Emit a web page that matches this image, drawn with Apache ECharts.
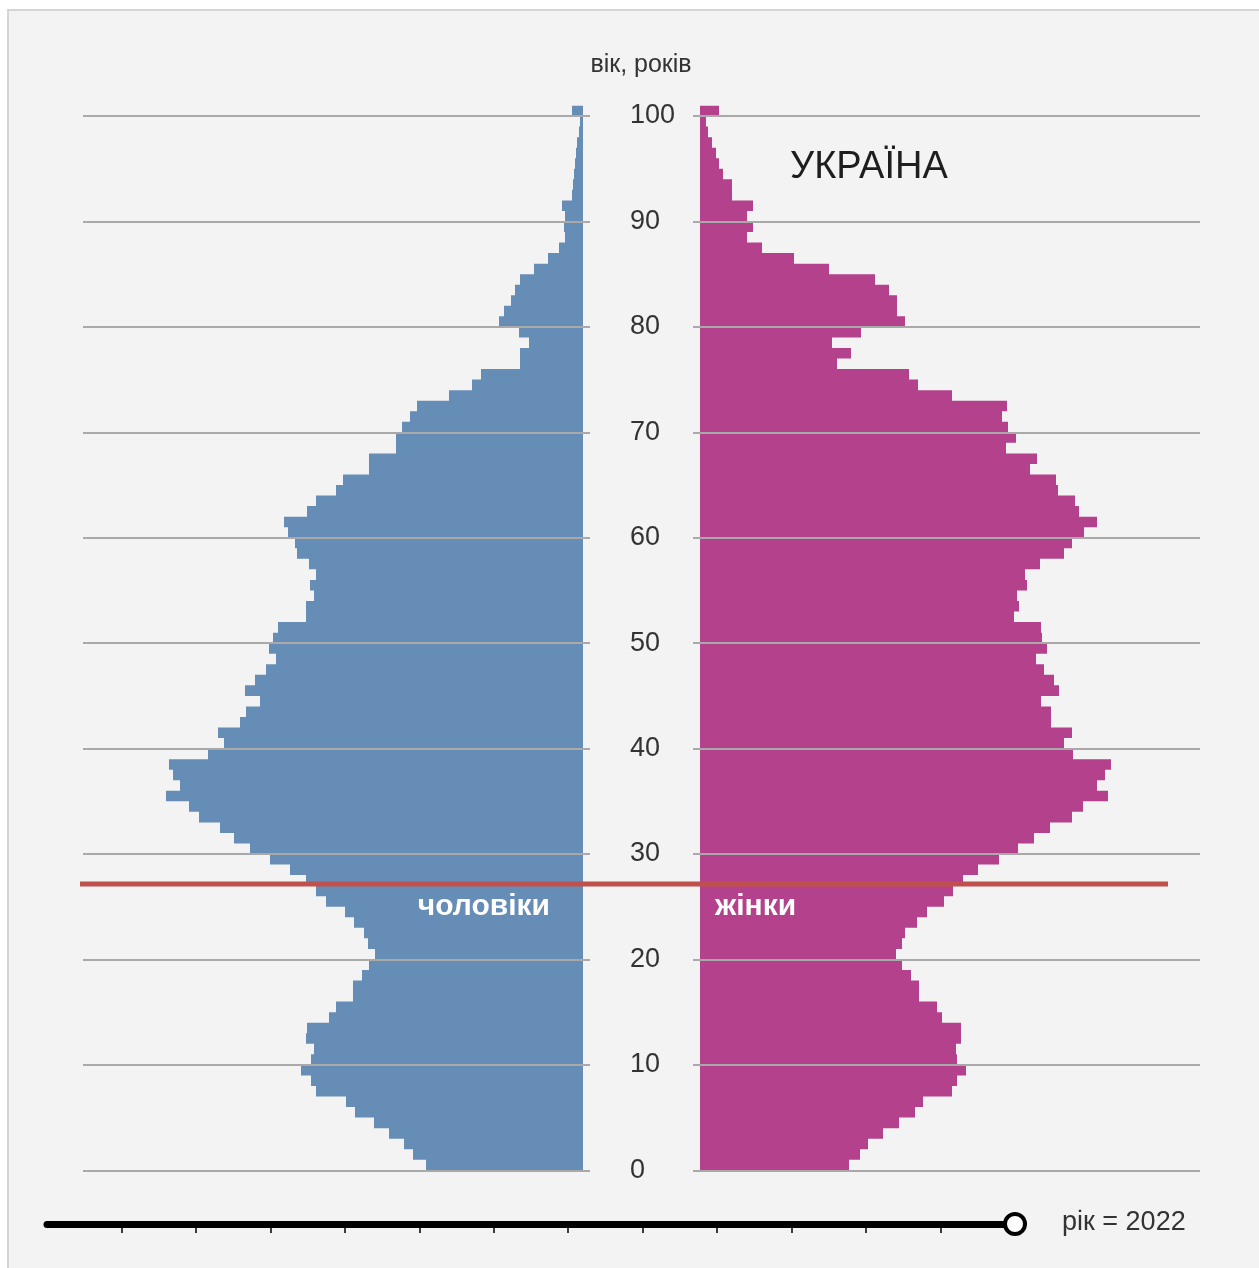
<!DOCTYPE html>
<html>
<head>
<meta charset="utf-8">
<title>Україна, 2022</title>
<script src="https://cdn.jsdelivr.net/npm/echarts@6/dist/echarts.min.js"></script>
<style>
  html, body { margin: 0; padding: 0; background: #fff; overflow: hidden; }
  #panel {
    position: absolute; left: 7px; top: 9px; right: 0; bottom: 0;
    background: #f3f3f3; border-left: 2px solid #d5d5d5; border-top: 2px solid #d5d5d5;
  }
  #pyramid { position: absolute; left: 0; top: 0; width: 1259px; height: 1268px; }
</style>
</head>
<body>
<div id="panel"></div>
<div id="pyramid"></div>
<script>
// вік 0..100, кожен бар займає рік [a, a+1]
var ages = []
for (var a = 0; a <= 100; a++) ages.push(String(a))

// чоловіки, вік 0..100 (відносна чисельність)
var males = [
  157, 170, 179, 194, 209, 228, 237, 267, 272, 282,
  272, 269, 277, 276, 254, 247, 230, 230, 221, 214,
  208, 215, 219, 229, 238, 257, 267, 277, 293, 313,
  333, 349, 363, 384, 394, 417, 403, 410, 414, 375,
  359, 365, 343, 337, 323, 338, 328, 317, 307, 314,
  310, 305, 277, 277, 269, 273, 267, 274, 286, 288,
  295, 299, 276, 267, 247, 240, 214, 214, 187, 187,
  181, 173, 166, 134, 111, 102, 63, 63, 54, 64,
  84, 79, 72, 68, 63, 49, 35, 24, 18, 19,
  18, 21, 11, 10, 9, 8, 7, 6, 4, 3,
  11
]

// жінки, вік 0..100
var females = [
  149, 160, 168, 183, 199, 215, 223, 252, 257, 266,
  257, 256, 261, 261, 242, 237, 219, 219, 211, 202,
  196, 202, 205, 217, 227, 244, 253, 263, 278, 299,
  318, 334, 350, 372, 383, 408, 397, 405, 411, 373,
  364, 372, 351, 351, 341, 359, 354, 344, 336, 347,
  342, 341, 314, 319, 317, 327, 325, 340, 364, 372,
  384, 397, 379, 375, 358, 356, 330, 337, 306, 316,
  308, 302, 307, 252, 218, 209, 137, 151, 132, 161,
  205, 197, 197, 189, 175, 129, 94, 62, 47, 53,
  47, 53, 32, 32, 23, 19, 16, 12, 8, 6,
  19
]

var markerAge = 27.15
var sliderYears = ['1957', '1962', '1967', '1972', '1977', '1982', '1987',
  '1992', '1997', '2002', '2007', '2012', '2017', '2022']
var currentYear = '2022'

var FONT = '"Liberation Sans", Arial, sans-serif'
var plotTop = 105.5
var plotHeight = 1064.8

var chart = echarts.init(document.getElementById('pyramid'))

var option = {
  animation: false,
  grid: [
    { left: 83, top: plotTop, width: 507, height: plotHeight },  // чоловіки
    { left: 693, top: plotTop, width: 507, height: plotHeight }, // жінки
    { left: 80, top: plotTop, width: 1088, height: plotHeight }, // червона лінія
    { left: 47, top: 1223, width: 968, height: 1 }                // повзунок року
  ],
  xAxis: [
    { gridIndex: 0, type: 'value', inverse: true, min: -7, max: 500, show: false },
    { gridIndex: 1, type: 'value', min: -7, max: 500, show: false },
    { gridIndex: 2, type: 'value', min: 0, max: 1, show: false },
    {
      gridIndex: 3,
      type: 'category',
      data: sliderYears,
      boundaryGap: false,
      axisLine: { lineStyle: { color: '#000', width: 7 } },
      axisTick: {
        interval: function (index) { return index > 0 },
        length: 9,
        lineStyle: { color: '#000', width: 1.5 }
      },
      axisLabel: { show: false },
      splitLine: { show: false }
    }
  ],
  yAxis: [
    { gridIndex: 0, type: 'category', data: ages, show: false },
    {
      gridIndex: 0,
      type: 'value',
      position: 'right',
      min: 0,
      max: 101,
      interval: 10,
      z: 3,
      axisLine: { show: false },
      axisTick: { show: false },
      axisLabel: { margin: 40, color: '#333', fontSize: 27, fontFamily: FONT, showMaxLabel: false },
      splitLine: { show: true, showMaxLine: false, lineStyle: { color: '#a9a9a9', width: 2 } }
    },
    { gridIndex: 1, type: 'category', data: ages, show: false },
    {
      gridIndex: 1,
      type: 'value',
      min: 0,
      max: 101,
      interval: 10,
      z: 3,
      axisLine: { show: false },
      axisTick: { show: false },
      axisLabel: { show: false },
      splitLine: { show: true, showMaxLine: false, lineStyle: { color: '#a9a9a9', width: 2 } }
    },
    { gridIndex: 2, type: 'value', min: 0, max: 101, show: false },
    { gridIndex: 3, type: 'value', min: 0, max: 1, show: false }
  ],
  series: [
    {
      // large mode draws the bars as one path, so no seams between neighbouring ages
      name: 'чоловіки',
      type: 'bar',
      xAxisIndex: 0,
      yAxisIndex: 0,
      data: males,
      barCategoryGap: '0%',
      large: true,
      largeThreshold: 10,
      itemStyle: { color: '#668db6' }
    },
    {
      name: 'жінки',
      type: 'bar',
      xAxisIndex: 1,
      yAxisIndex: 2,
      data: females,
      barCategoryGap: '0%',
      large: true,
      largeThreshold: 10,
      itemStyle: { color: '#b3418b' }
    },
    {
      type: 'line',
      xAxisIndex: 2,
      yAxisIndex: 4,
      data: [[0, markerAge], [1, markerAge]],
      symbol: 'none',
      lineStyle: { color: '#c0504d', width: 5 },
      z: 5
    },
    {
      type: 'scatter',
      xAxisIndex: 3,
      yAxisIndex: 5,
      data: [[currentYear, 0]],
      symbolSize: 20,
      itemStyle: { color: '#fff', borderColor: '#000', borderWidth: 4, opacity: 1 },
      z: 10
    }
  ],
  graphic: [
    {
      type: 'text', x: 641, y: 65,
      style: { text: 'вік, років', fontSize: 25, fontFamily: FONT, fill: '#333', align: 'center', verticalAlign: 'middle' }
    },
    {
      type: 'text', x: 790, y: 168,
      style: { text: 'УКРАЇНА', fontSize: 38, fontFamily: FONT, fill: '#1e1e1e', align: 'left', verticalAlign: 'middle' }
    },
    {
      type: 'text', x: 550, y: 907, z: 20,
      style: { text: 'чоловіки', fontSize: 30, fontWeight: 'bold', fontFamily: FONT, fill: '#fff', align: 'right', verticalAlign: 'middle' }
    },
    {
      type: 'text', x: 715, y: 907, z: 20,
      style: { text: 'жінки', fontSize: 30, fontWeight: 'bold', fontFamily: FONT, fill: '#fff', align: 'left', verticalAlign: 'middle' }
    },
    {
      type: 'text', x: 1062, y: 1223,
      style: { text: 'рік = ' + currentYear, fontSize: 27, fontFamily: FONT, fill: '#333', align: 'left', verticalAlign: 'middle' }
    }
  ]
}

chart.setOption(option)
window.addEventListener('resize', () => {
  chart.resize()
})
</script>
</body>
</html>
